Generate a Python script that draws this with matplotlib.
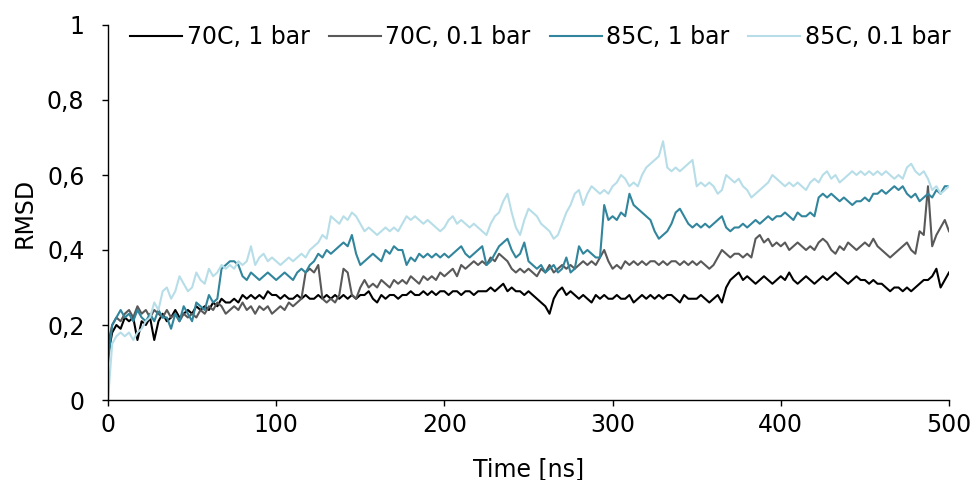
import numpy as np
import matplotlib
matplotlib.use("Agg")
import matplotlib.pyplot as plt

time_step = 2.5  # ns between stored samples
series_names = ["70C, 1 bar", "70C, 0.1 bar", "85C, 1 bar", "85C, 0.1 bar"]
colors = ["#000000", "#595959", "#31859C", "#B7DEE8"]

rmsd_70c_1bar = [
    0.12, 0.18, 0.20, 0.19, 0.22, 0.21, 0.22, 0.16, 0.21, 0.20,
    0.22, 0.16, 0.21, 0.23, 0.21, 0.22, 0.24, 0.22, 0.23, 0.24,
    0.23, 0.25, 0.24, 0.25, 0.24, 0.26, 0.25, 0.27, 0.26, 0.26,
    0.27, 0.26, 0.28, 0.27, 0.28, 0.27, 0.28, 0.27, 0.29, 0.28,
    0.28, 0.27, 0.28, 0.27, 0.27, 0.28, 0.27, 0.28, 0.27, 0.27,
    0.28, 0.27, 0.28, 0.27, 0.28, 0.27, 0.28, 0.27, 0.28, 0.27,
    0.28, 0.28, 0.29, 0.27, 0.26, 0.28, 0.27, 0.28, 0.28, 0.27,
    0.28, 0.28, 0.29, 0.28, 0.28, 0.29, 0.28, 0.29, 0.28, 0.29,
    0.29, 0.28, 0.29, 0.29, 0.28, 0.29, 0.29, 0.28, 0.29, 0.29,
    0.29, 0.30, 0.29, 0.30, 0.31, 0.29, 0.30, 0.29, 0.29, 0.28,
    0.29, 0.28, 0.27, 0.26, 0.25, 0.23, 0.27, 0.29, 0.30, 0.28,
    0.29, 0.28, 0.27, 0.28, 0.27, 0.26, 0.28, 0.27, 0.28, 0.27,
    0.27, 0.28, 0.27, 0.27, 0.28, 0.26, 0.27, 0.28, 0.27, 0.28,
    0.27, 0.28, 0.27, 0.28, 0.28, 0.27, 0.26, 0.28, 0.27, 0.27,
    0.27, 0.28, 0.27, 0.26, 0.27, 0.28, 0.26, 0.30, 0.32, 0.33,
    0.34, 0.32, 0.33, 0.32, 0.31, 0.32, 0.33, 0.32, 0.31, 0.32,
    0.33, 0.32, 0.34, 0.32, 0.31, 0.32, 0.33, 0.32, 0.31, 0.32,
    0.33, 0.32, 0.33, 0.34, 0.33, 0.32, 0.31, 0.32, 0.33, 0.32,
    0.32, 0.31, 0.32, 0.31, 0.31, 0.30, 0.29, 0.30, 0.30, 0.29,
    0.30, 0.29, 0.30, 0.31, 0.32, 0.32, 0.33, 0.35, 0.30, 0.32,
    0.34,
]

rmsd_70c_01bar = [
    0.15, 0.20, 0.22, 0.21, 0.23, 0.24, 0.22, 0.25, 0.23, 0.24,
    0.22, 0.24, 0.23, 0.22, 0.24, 0.22, 0.23, 0.21, 0.23, 0.22,
    0.23, 0.22, 0.24, 0.23, 0.25, 0.24, 0.26, 0.25, 0.23, 0.24,
    0.25, 0.24, 0.26, 0.24, 0.25, 0.23, 0.25, 0.24, 0.25, 0.23,
    0.24, 0.25, 0.24, 0.26, 0.25, 0.26, 0.27, 0.34, 0.35, 0.34,
    0.36, 0.27, 0.26, 0.27, 0.26, 0.28, 0.35, 0.34, 0.28, 0.27,
    0.30, 0.32, 0.30, 0.31, 0.30, 0.32, 0.31, 0.30, 0.32, 0.31,
    0.32, 0.31, 0.33, 0.32, 0.31, 0.33, 0.32, 0.33, 0.32, 0.34,
    0.33, 0.34, 0.35, 0.33, 0.36, 0.35, 0.36, 0.37, 0.36, 0.37,
    0.36, 0.38, 0.37, 0.39, 0.38, 0.37, 0.35, 0.34, 0.35, 0.34,
    0.35, 0.34, 0.33, 0.35, 0.34, 0.36, 0.34, 0.35, 0.36, 0.35,
    0.36, 0.35, 0.36, 0.37, 0.36, 0.37, 0.36, 0.38, 0.40, 0.37,
    0.35, 0.36, 0.35, 0.37, 0.36, 0.37, 0.36, 0.37, 0.36, 0.37,
    0.37, 0.36, 0.37, 0.36, 0.37, 0.37, 0.36, 0.37, 0.36, 0.37,
    0.36, 0.37, 0.36, 0.35, 0.36, 0.38, 0.40, 0.39, 0.38, 0.39,
    0.39, 0.38, 0.39, 0.38, 0.43, 0.44, 0.42, 0.43, 0.41, 0.42,
    0.41, 0.42, 0.40, 0.41, 0.42, 0.41, 0.40, 0.41, 0.40, 0.42,
    0.43, 0.42, 0.40, 0.39, 0.41, 0.40, 0.42, 0.41, 0.40, 0.41,
    0.42, 0.41, 0.43, 0.41, 0.40, 0.39, 0.38, 0.39, 0.40, 0.41,
    0.42, 0.40, 0.39, 0.45, 0.44, 0.57, 0.41, 0.44, 0.46, 0.48,
    0.45,
]

rmsd_85c_1bar = [
    0.10, 0.20, 0.22, 0.24, 0.22, 0.23, 0.21, 0.24, 0.22, 0.21,
    0.23, 0.21, 0.24, 0.22, 0.22, 0.19, 0.23, 0.21, 0.25, 0.23,
    0.21, 0.26, 0.25, 0.24, 0.28, 0.26, 0.27, 0.35, 0.36, 0.37,
    0.37, 0.36, 0.33, 0.32, 0.34, 0.33, 0.32, 0.33, 0.34, 0.33,
    0.32, 0.33, 0.34, 0.33, 0.32, 0.34, 0.35, 0.34, 0.36, 0.37,
    0.39, 0.38, 0.40, 0.39, 0.40, 0.41, 0.42, 0.41, 0.44, 0.39,
    0.36, 0.37, 0.38, 0.39, 0.38, 0.37, 0.40, 0.39, 0.41, 0.40,
    0.40, 0.36, 0.38, 0.37, 0.39, 0.38, 0.39, 0.38, 0.39, 0.38,
    0.39, 0.38, 0.39, 0.40, 0.41, 0.39, 0.38, 0.39, 0.40, 0.41,
    0.36, 0.37, 0.39, 0.41, 0.42, 0.43, 0.40, 0.38, 0.39, 0.42,
    0.37, 0.36, 0.35, 0.36, 0.34, 0.35, 0.36, 0.34, 0.35, 0.38,
    0.34, 0.35, 0.41, 0.39, 0.40, 0.39, 0.38, 0.38, 0.52, 0.48,
    0.49, 0.48, 0.50, 0.49, 0.55, 0.52, 0.51, 0.50, 0.49, 0.48,
    0.45, 0.43, 0.44, 0.45, 0.47, 0.50, 0.51, 0.49, 0.47, 0.46,
    0.47, 0.46, 0.47, 0.46, 0.47, 0.48, 0.49, 0.46, 0.45, 0.46,
    0.46, 0.47, 0.46, 0.47, 0.48, 0.47, 0.48, 0.49, 0.48, 0.49,
    0.49, 0.50, 0.49, 0.48, 0.50, 0.49, 0.49, 0.50, 0.49, 0.54,
    0.55, 0.54, 0.55, 0.54, 0.53, 0.54, 0.53, 0.52, 0.53, 0.53,
    0.54, 0.53, 0.55, 0.55, 0.56, 0.55, 0.56, 0.57, 0.56, 0.57,
    0.55, 0.54, 0.55, 0.53, 0.54, 0.55, 0.54, 0.56, 0.55, 0.57,
    0.57,
]

rmsd_85c_01bar = [
    0.00, 0.15, 0.17, 0.18, 0.17, 0.18, 0.16, 0.18, 0.19, 0.21,
    0.22, 0.26, 0.24, 0.29, 0.30, 0.27, 0.29, 0.33, 0.31, 0.29,
    0.30, 0.34, 0.32, 0.31, 0.35, 0.33, 0.34, 0.36, 0.35, 0.36,
    0.35, 0.37, 0.36, 0.37, 0.41, 0.36, 0.38, 0.39, 0.37, 0.38,
    0.37, 0.36, 0.37, 0.38, 0.37, 0.38, 0.39, 0.38, 0.40, 0.41,
    0.42, 0.44, 0.43, 0.49, 0.48, 0.47, 0.49, 0.48, 0.50, 0.49,
    0.47, 0.45, 0.46, 0.45, 0.44, 0.45, 0.46, 0.45, 0.46, 0.45,
    0.47, 0.49, 0.48, 0.49, 0.48, 0.47, 0.48, 0.47, 0.46, 0.45,
    0.46, 0.48, 0.49, 0.47, 0.48, 0.47, 0.46, 0.47, 0.46, 0.45,
    0.44, 0.47, 0.49, 0.50, 0.53, 0.55, 0.50, 0.46, 0.44, 0.48,
    0.51, 0.50, 0.49, 0.47, 0.46, 0.45, 0.43, 0.44, 0.47, 0.50,
    0.52, 0.55, 0.56, 0.52, 0.55, 0.57, 0.56, 0.55, 0.56, 0.55,
    0.57, 0.58, 0.60, 0.59, 0.57, 0.58, 0.57, 0.60, 0.62, 0.63,
    0.64, 0.65, 0.69, 0.62, 0.61, 0.62, 0.61, 0.62, 0.63, 0.64,
    0.57, 0.58, 0.57, 0.58, 0.57, 0.55, 0.56, 0.60, 0.59, 0.58,
    0.59, 0.57, 0.56, 0.54, 0.55, 0.56, 0.57, 0.58, 0.60, 0.59,
    0.58, 0.57, 0.58, 0.57, 0.58, 0.57, 0.56, 0.58, 0.59, 0.58,
    0.60, 0.61, 0.59, 0.60, 0.58, 0.59, 0.60, 0.61, 0.60, 0.61,
    0.60, 0.61, 0.60, 0.61, 0.60, 0.61, 0.60, 0.59, 0.60, 0.59,
    0.62, 0.63, 0.61, 0.60, 0.61, 0.59, 0.56, 0.57, 0.55, 0.56,
    0.57,
]

x_ticks = [0, 100, 200, 300, 400, 500]
y_ticks = [0, 0.2, 0.4, 0.6, 0.8, 1.0]
y_tick_labels = ["0", "0,2", "0,4", "0,6", "0,8", "1"]

plt.rcParams["font.family"] = ["DejaVu Sans"]
FS = 17

fig = plt.figure(figsize=(9.74, 4.8), dpi=100)
ax = fig.add_axes([108 / 974, 80 / 480, (949 - 108) / 974, (400 - 25) / 480])

all_series = [rmsd_70c_1bar, rmsd_70c_01bar, rmsd_85c_1bar, rmsd_85c_01bar]
for name, col, vals in zip(series_names, colors, all_series):
    t = np.arange(len(vals)) * time_step
    ax.plot(t, vals, color=col, lw=1.5, label=name)

ax.set_xlim(0, 500)
ax.set_ylim(0, 1)
ax.set_xticks(x_ticks)
ax.set_yticks(y_ticks)
ax.set_yticklabels(y_tick_labels)
for s in ["top", "right"]:
    ax.spines[s].set_visible(False)
for s in ["left", "bottom"]:
    ax.spines[s].set_color("black")
    ax.spines[s].set_linewidth(1.0)
ax.tick_params(axis="both", direction="out", length=4.5, width=1.0, labelsize=FS, colors="black")
ax.tick_params(axis="x", pad=5)
ax.tick_params(axis="y", pad=12.5)
ax.set_xlabel("Time [ns]", fontsize=FS, labelpad=14)
ax.set_ylabel("RMSD", fontsize=FS, labelpad=7.5)

ax.legend(ncol=4, loc="center right", bbox_to_anchor=(1.002, (400 - 37) / 375), frameon=False,
          fontsize=FS, handlelength=2.2, handletextpad=0.2, columnspacing=0.8,
          borderaxespad=0.0, borderpad=0.0)

fig.savefig("out.png", dpi=100)
